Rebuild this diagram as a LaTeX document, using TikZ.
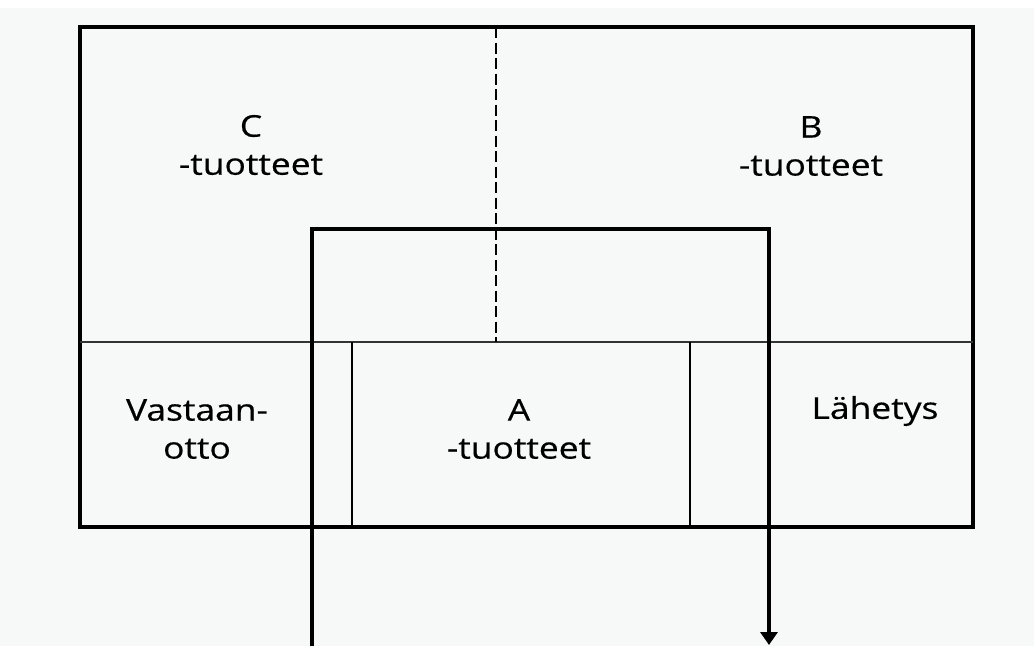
\documentclass[tikz,border=0pt]{standalone}
\usepackage{fontspec}
\setmainfont{Open Sans}[FakeStretch=1.18, FakeBold=0.5]
\usetikzlibrary{arrows.meta}
\definecolor{paper}{RGB}{247,249,249}
\begin{document}
\begin{tikzpicture}[x=1pt, y=-1pt,
  frame/.style={line width=3.4pt, line join=miter},
  divider/.style={line width=1.8pt, draw=black!80},
  cell/.style={line width=2.4pt},
  flow/.style={line width=3.4pt, line join=miter},
  sep/.style={line width=2.8pt, dash pattern=on 11pt off 4.5pt},
  lbl/.style={font=\fontsize{30}{38}\selectfont, align=center, inner sep=0pt, text=black}]
  % sheet and page size
  \fill[paper] (0,8) rectangle (1034,646);
  \useasboundingbox (0,0) rectangle (1034,646);

  % warehouse outline
  \draw[frame] (80,27) rectangle (973,527);
  % split between storage zones and the dock row
  \draw[divider] (80,342) -- (973,342);
  % C / B boundary
  \draw[sep] (496,27) -- (496,342);
  % A-product area between receiving and shipping
  \draw[cell] (352,342) -- (352,527);
  \draw[cell] (690,342) -- (690,527);

  % flow of goods through the warehouse
  \coordinate (in)   at (312,646);
  \coordinate (tl)   at (312,229);
  \coordinate (tr)   at (769,229);
  \coordinate (out)  at (769,645);
  \draw[flow, -{Triangle[width=17pt, length=13pt]}] (in) -- (tl) -- (tr) -- (out);

  % labels
  \node[lbl] (cprod) at (251,145) {C\\-tuotteet};
  \node[lbl] (bprod) at (811,146) {B\\-tuotteet};
  \node[lbl] (recv)  at (197,429) {Vastaan-\\otto};
  \node[lbl] (aprod) at (519,429) {A\\-tuotteet};
  \node[lbl] (ship)  at (875,411) {Lähetys};
\end{tikzpicture}
\end{document}
